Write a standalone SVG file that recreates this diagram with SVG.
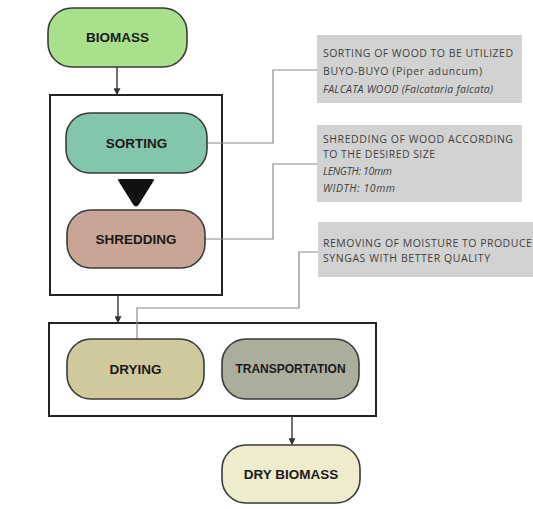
<svg xmlns="http://www.w3.org/2000/svg" width="533" height="509" viewBox="0 0 533 509">
<defs>
<style>
.node{stroke:#3a3a3a;stroke-width:1.6}
.lbl{font-family:"Liberation Sans",Arial,sans-serif;font-weight:bold;fill:#1a1a1a;text-anchor:middle}
.frame{fill:none;stroke:#222;stroke-width:2}
.call{fill:#d2d2d2}
.ctext{font-family:"Open Sans","Liberation Sans",sans-serif;font-size:10.5px;fill:#3f3f3f}
.wire{fill:none;stroke:#8a8a8a;stroke-width:1.2}
.flow{fill:none;stroke:#333;stroke-width:1.4}
</style>
<marker id="arr" viewBox="0 0 6 6" refX="5" refY="3" markerWidth="5" markerHeight="5" orient="auto">
<path d="M0,0 L6,3 L0,6 z" fill="#333"/>
</marker>
</defs>
<rect width="533" height="509" fill="#fff"/>

<g id="group-frames">
<rect class="frame" x="50" y="95" width="172" height="200"/>
<rect class="frame" x="49" y="323" width="327" height="93"/>
</g>

<g id="connectors">
<path class="flow" d="M117,67 V94" marker-end="url(#arr)"/>
<path class="flow" d="M118,295 V322" marker-end="url(#arr)"/>
<path class="flow" d="M292,416 V444" marker-end="url(#arr)"/>
<path d="M119,180 L153,180 L138,204 Q136,207 134,204 Z" fill="#111" stroke="#111" stroke-width="2" stroke-linejoin="round"/>
<path class="wire" d="M207,143 H273 V70 H317"/>
<path class="wire" d="M205,239 H273 V164 H317"/>
<path class="wire" d="M318,252 H299 V308 H137 V339"/>
</g>

<g id="callout-sorting">
<rect class="call" x="317" y="35" width="205" height="68"/>
<text class="ctext" x="323" y="57" textLength="190" lengthAdjust="spacing">SORTING OF WOOD TO BE UTILIZED</text>
<text class="ctext" x="323" y="75" textLength="159" lengthAdjust="spacing">BUYO-BUYO (Piper aduncum)</text>
<text class="ctext" x="323" y="93" font-style="italic" textLength="170" lengthAdjust="spacing">FALCATA WOOD (Falcataria falcata)</text>
</g>

<g id="callout-shredding">
<rect class="call" x="317" y="125" width="205" height="77"/>
<text class="ctext" x="323" y="143" textLength="190" lengthAdjust="spacing">SHREDDING OF WOOD ACCORDING</text>
<text class="ctext" x="323" y="158" textLength="112" lengthAdjust="spacing">TO THE DESIRED SIZE</text>
<text class="ctext" x="323" y="175" font-style="italic" textLength="69" lengthAdjust="spacing">LENGTH: 10mm</text>
<text class="ctext" x="323" y="192" font-style="italic" textLength="72" lengthAdjust="spacing">WIDTH: 10mm</text>
</g>

<g id="callout-drying">
<rect class="call" x="318" y="222" width="220" height="55"/>
<text class="ctext" x="323" y="247" letter-spacing="0.5">REMOVING OF MOISTURE TO PRODUCE</text>
<text class="ctext" x="323" y="262" textLength="167" lengthAdjust="spacing">SYNGAS WITH BETTER QUALITY</text>
</g>

<g id="node-biomass">
<rect class="node" x="48" y="8" width="139" height="59" rx="24" fill="#a9e08c"/>
<text class="lbl" x="117.5" y="42" font-size="13.5">BIOMASS</text>
</g>

<g id="node-sorting">
<rect class="node" x="66" y="113" width="141" height="60" rx="24" fill="#83c6ab"/>
<text class="lbl" x="136.5" y="147.5" font-size="13.5">SORTING</text>
</g>

<g id="node-shredding">
<rect class="node" x="67" y="210" width="138" height="58" rx="24" fill="#c9a497"/>
<text class="lbl" x="136" y="243.5" font-size="13.5">SHREDDING</text>
</g>

<g id="node-drying">
<rect class="node" x="67" y="339" width="137" height="60" rx="24" fill="#d0c99b"/>
<text class="lbl" x="135.5" y="373.5" font-size="13.5">DRYING</text>
</g>

<g id="node-transportation">
<rect class="node" x="222" y="339" width="137" height="60" rx="24" fill="#abae9b"/>
<text class="lbl" x="290.5" y="373" font-size="12">TRANSPORTATION</text>
</g>

<g id="node-dry-biomass">
<rect class="node" x="222" y="445" width="138" height="58" rx="24" fill="#efebcd"/>
<text class="lbl" x="291" y="478.5" font-size="13.5">DRY BIOMASS</text>
</g>
</svg>
